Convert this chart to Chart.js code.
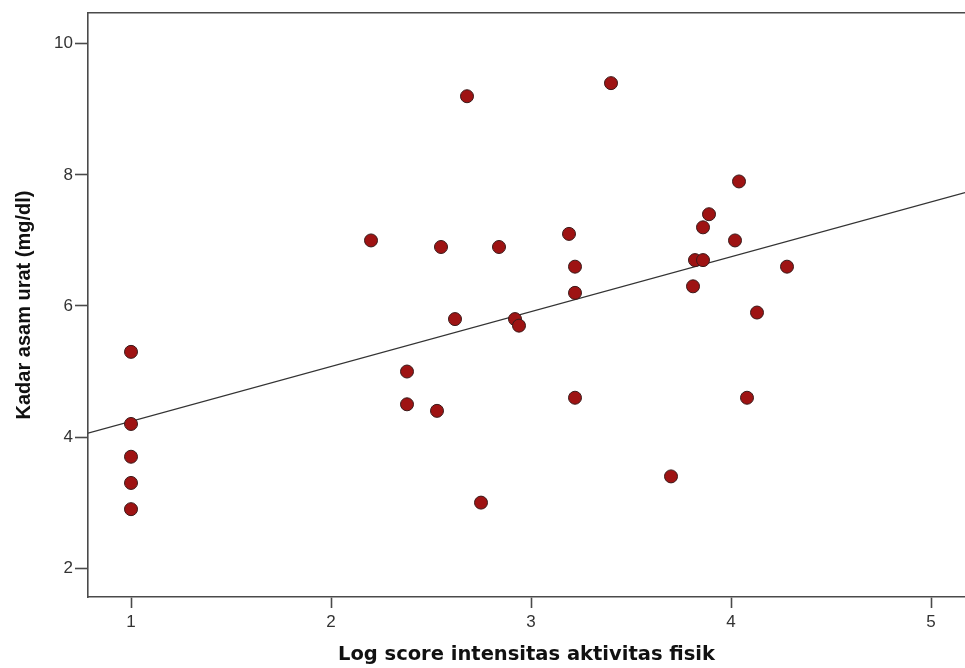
<!DOCTYPE html>
<html>
<head>
<meta charset="utf-8">
<script src="https://cdn.jsdelivr.net/npm/chart.js@4"></script>
<style>
  html, body { margin: 0; padding: 0; background: #fff; }
  canvas { display: block; }
</style>
</head>
<body>
<canvas id="scatterChart" width="965" height="668"></canvas>
<script>
// data
const logScore = [1, 1, 1, 1, 1, 2.2, 2.38, 2.38, 2.53, 2.55, 2.62, 2.68, 2.75, 2.84, 2.92, 2.94,
                  3.19, 3.22, 3.22, 3.22, 3.4, 3.7, 3.81, 3.82, 3.86, 3.86, 3.89, 4.02, 4.04, 4.08, 4.13, 4.28];
const asamUrat = [5.3, 4.2, 3.7, 3.3, 2.9, 7.0, 5.0, 4.5, 4.4, 6.9, 5.8, 9.2, 3.0, 6.9, 5.8, 5.7,
                  7.1, 6.6, 6.2, 4.6, 9.4, 3.4, 6.3, 6.7, 6.7, 7.2, 7.4, 7.0, 7.9, 4.6, 5.9, 6.6];
const fitX = [0.785, 5.17];
const fitY = [4.06, 7.73];
const xTicks = [1, 2, 3, 4, 5];
const yTicks = [2, 4, 6, 8, 10];

const axisColor = '#4a4a4a';
const tickFont = { family: 'Liberation Sans, Arial, sans-serif', size: 17 };

// no extra label padding so the plot area fills the canvas edges
function noPad(s) {
  s.paddingLeft = 0; s.paddingRight = 0; s.paddingTop = 0; s.paddingBottom = 0;
}

const ctx = document.getElementById('scatterChart').getContext('2d');
new Chart(ctx, {
  type: 'scatter',
  data: {
    datasets: [{
      label: 'Kadar asam urat',
      data: logScore.map((x, i) => ({ x: x, y: asamUrat[i] })),
      backgroundColor: '#9e1313',
      borderColor: '#3a1a1a',
      borderWidth: 1,
      pointRadius: 6.5,
      order: 1
    }, {
      type: 'line',
      label: 'Fit',
      data: fitX.map((x, i) => ({ x: x, y: fitY[i] })),
      borderColor: '#333',
      borderWidth: 1.2,
      pointRadius: 0,
      fill: false,
      order: 2
    }]
  },
  options: {
    responsive: false,
    animation: false,
    layout: { autoPadding: false, padding: { top: 13, right: 0, left: 0, bottom: 0 } },
    plugins: { legend: { display: false }, tooltip: { enabled: false } },
    scales: {
      x: {
        type: 'linear',
        min: fitX[0],
        max: fitX[1],
        afterBuildTicks: s => { s.ticks = xTicks.map(v => ({ value: v })); },
        afterFit: s => { s.height = 71; noPad(s); },
        grid: { drawOnChartArea: false, drawTicks: true, tickLength: 11, tickColor: axisColor, tickWidth: 1.6 },
        border: { color: axisColor, width: 1.6 },
        ticks: { color: '#333', font: tickFont, padding: 4, maxRotation: 0 },
        title: {
          display: true, text: 'Log score intensitas aktivitas fisik', color: '#111',
          font: { family: 'DejaVu Sans, sans-serif', size: 19.5, weight: 'bold' },
          padding: { top: 0, bottom: 1 }
        }
      },
      xTop: {
        type: 'linear',
        position: 'top',
        min: fitX[0],
        max: fitX[1],
        afterFit: s => { s.height = 0; noPad(s); },
        grid: { display: false },
        border: { color: axisColor, width: 1.6 },
        ticks: { display: false }
      },
      y: {
        type: 'linear',
        min: 1.56,
        max: 10.47,
        afterBuildTicks: s => { s.ticks = yTicks.map(v => ({ value: v })); },
        afterFit: s => { s.width = 88; noPad(s); },
        grid: { drawOnChartArea: false, drawTicks: true, tickLength: 13, tickColor: axisColor, tickWidth: 1.6 },
        border: { color: axisColor, width: 1.6 },
        ticks: { color: '#333', font: tickFont, padding: 2 },
        title: {
          display: true, text: 'Kadar asam urat (mg/dl)', color: '#111',
          font: { family: 'Liberation Sans, Arial, sans-serif', size: 20, weight: 'bold' },
          padding: { top: 12, bottom: 0 }
        }
      }
    }
  }
});
</script>
</body>
</html>
